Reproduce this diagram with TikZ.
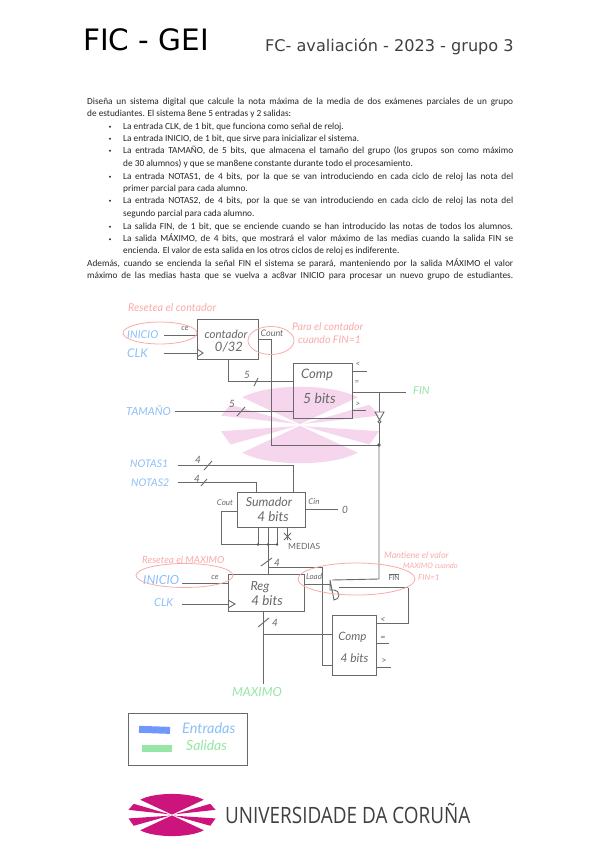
\documentclass[tikz,border=0pt]{standalone}
\usepackage{fontspec}
\setmainfont{Carlito}
\newfontfamily\hdr{DejaVu Sans}
\newfontfamily\hand{Lato}
\newfontfamily\logof{Open Sans}
\definecolor{ink}{RGB}{105,105,105}
\definecolor{inb}{RGB}{140,190,250}
\definecolor{outg}{RGB}{150,230,165}
\definecolor{rd}{RGB}{250,170,170}
\definecolor{logoM}{RGB}{205,20,125}
\definecolor{wm}{RGB}{246,214,236}
\newcommand{\fs}[1]{\fontsize{#1}{#1}\selectfont}
\tikzset{
 wire/.style={draw=ink,line width=0.9pt},
 blockb/.style={draw=ink,line width=1pt,fill=none,inner sep=0pt},
 hw/.style={inner sep=0pt,font=\hand\itshape\fs{10},text=ink},
 hwb/.style={hw,text=inb},
 hwg/.style={hw,text=outg},
 hwr/.style={hw,text=rd},
 ringr/.style={draw=rd,line width=0.8pt},
 txt/.style={inner sep=0pt,anchor=base west,font=\fs{9.3},text=black!85},
}
\newcommand{\tl}[5]{\node[txt] (#1) at (#2,#3) {\makebox[#4pt][s]{#5}};}
\newcommand{\logoshape}[4]{%
 \begin{scope}[shift={(#1,#2)},x=#3pt,y=-#4pt]
 \fill[fill=\logocol] (-.73,-.71) .. controls (-.4,-1.07) and (.4,-1.07) .. (.73,-.71) -- (0,-.02) -- cycle;
 \fill[fill=\logocol] (-.73,.71) .. controls (-.4,1.07) and (.4,1.07) .. (.73,.71) -- (0,.02) -- cycle;
 \fill[fill=\logocol] (-1,-.24) -- (-.88,-.52) -- (-.05,-.03) -- cycle;
 \fill[fill=\logocol] (1,-.24) -- (.88,-.52) -- (.05,-.03) -- cycle;
 \fill[fill=\logocol] (-1,.16) -- (-.88,.5) -- (-.05,.03) -- cycle;
 \fill[fill=\logocol] (1,.16) -- (.88,.5) -- (.05,.03) -- cycle;
 \end{scope}}
\begin{document}
\begin{tikzpicture}[x=1pt,y=-1pt]
\useasboundingbox (0,0) rectangle (599,848);
\fill[white] (0,0) rectangle (599,848);
% watermark
\def\logocol{wm}
\logoshape{300}{425}{79}{39}
% header
\node[inner sep=0pt,anchor=base west,font=\hdr\fs{29.5}] (h1) at (83,51) {FIC - GEI};
\node[inner sep=0pt,anchor=base west,font=\hdr\fs{16.1},text=black!75] (h2) at (265,52) {FC- avaliación - 2023 - grupo 3};
% body
\tl{a1}{87}{104.5}{426}{Diseña un sistema digital que calcule la nota máxima de la media de dos exámenes parciales de un grupo}
\node[txt] (a2) at (87,116.5) {de estudiantes. El sistema 8ene 5 entradas y 2 salidas:};
\foreach \yy in {129,141,153,179,203,229,241.5}{\fill[black!80] (110,\yy-2.3) circle (1.1);}
\node[txt] (b1) at (123,129) {La entrada CLK, de 1 bit, que funciona como señal de reloj.};
\node[txt] (b2) at (123,141) {La entrada INICIO, de 1 bit, que sirve para inicializar el sistema.};
\tl{b3}{123}{153.5}{390}{La entrada TAMAÑO, de 5 bits, que almacena el tamaño del grupo (los grupos son como máximo}
\node[txt] (b3b) at (123,166) {de 30 alumnos) y que se man8ene constante durante todo el procesamiento.};
\tl{b4}{123}{179}{390}{La entrada NOTAS1, de 4 bits, por la que se van introduciendo en cada ciclo de reloj las nota del}
\node[txt] (b4b) at (123,191) {primer parcial para cada alumno.};
\tl{b5}{123}{203}{390}{La entrada NOTAS2, de 4 bits, por la que se van introduciendo en cada ciclo de reloj las nota del}
\node[txt] (b5b) at (123,216) {segundo parcial para cada alumno.};
\tl{b6}{123}{229}{390}{La salida FIN, de 1 bit, que se enciende cuando se han introducido las notas de todos los alumnos.}
\tl{b7}{123}{241.5}{390}{La salida MÁXIMO, de 4 bits, que mostrará el valor máximo de las medias cuando la salida FIN se}
\node[txt] (b7b) at (123,253.5) {encienda. El valor de esta salida en los otros ciclos de reloj es indiferente.};
\tl{c1}{87}{266}{426}{Además, cuando se encienda la señal FIN el sistema se parará, manteniendo por la salida MÁXIMO el valor}
\tl{c2}{87}{278}{426}{máximo de las medias hasta que se vuelva a ac8var INICIO para procesar un nuevo grupo de estudiantes.}
% blocks
\node[blockb,minimum width=61pt,minimum height=40pt] (cnt) at (227.5,339) {};
\node[blockb,minimum width=59pt,minimum height=55pt] (cmp5) at (322.5,390.5) {};
\node[blockb,minimum width=68pt,minimum height=35pt] (sum) at (271,509.5) {};
\node[blockb,minimum width=76pt,minimum height=37pt] (reg) at (266,592.5) {};
\node[blockb,minimum width=44pt,minimum height=60pt] (cmp4) at (354,645) {};
\node[hw,font=\hand\itshape\fs{11.5}] (cntl) at (226,334) {contador};
\node[hw,font=\hand\itshape\fs{13}] (cntm) at (229,347) {0/32};
\node[hw,font=\hand\itshape\fs{13}] (c5l) at (317,375) {Comp};
\node[hw,font=\hand\itshape\fs{14}] (c5m) at (319.5,398) {5 bits};
\node[hw,font=\hand\itshape\fs{12.5}] (suml) at (269,502) {Sumador};
\node[hw,font=\hand\itshape\fs{13.5}] (sumb) at (273,517) {4 bits};
\node[hw,font=\hand\itshape\fs{12.5}] (regl) at (260,587) {Reg};
\node[hw,font=\hand\itshape\fs{13.5}] (regb) at (267,601) {4 bits};
\node[hw,font=\hand\itshape\fs{11.5}] (c4l) at (352.5,637) {Comp};
\node[hw,font=\hand\itshape\fs{12}] (c4b) at (354.5,658) {4 bits};
% top wires
\coordinate (iniE) at (164,335);
\coordinate (clkE) at (164,353);
\draw[wire] (iniE) -- (cnt.west |- iniE);
\draw[wire] (clkE) -- (cnt.west |- clkE);
\draw[wire] (197,349) -- (203,353) -- (197,357);
\coordinate (t1) at (228,359);
\draw[wire] (t1) |- (293,381);
\draw[wire] (175,411) -- (293,411);
\coordinate (cE) at (258,339);
\coordinate (dot1) at (379,445);
\draw[wire] (cE) -| (271,445) -- (dot1);
\fill[ink!80!black] (dot1) circle (1.8);
\draw[wire] (352,392) -- (406,392);
\draw[wire] (379,392) -- (379,412);
\draw[wire] (375,412) -- (384,412) -- (379.5,420) -- cycle;
\draw[wire] (379.5,421.7) circle (1.5);
\draw[wire] (379,423) -- (dot1);
\draw[wire] (352,371) -- (367,371);
\draw[wire] (352,410) -- (366,410);
% bus ticks
\draw[wire] (254,386) -- (258,378);
\draw[wire] (237,416) -- (245,407);
\draw[wire] (204,470) -- (212,461);
\draw[wire] (201,486) -- (207,479);
\node[hw] (n5a) at (247,375) {5};
\node[hw] (n5b) at (232,404) {5};
\node[hw] (n4a) at (198,460) {4};
\node[hw] (n4b) at (197,479) {4};
\node[hw,font=\hand\itshape\fs{8}] (qc) at (185,328) {ce};
\node[hw,font=\hand\itshape\fs{9}] (qcount) at (272,333) {Count};
\node[hw,font=\hand\itshape\fs{8}] (lt) at (358,364) {<};
\node[hw,font=\hand\itshape\fs{8}] (leq) at (357,383) {=};
\node[hw,font=\hand\itshape\fs{8}] (lgt) at (358,404) {>};
% notas
\draw[wire] (178,465) -| (293,492);
\draw[wire] (178,482) -| (256,492);
% sumador
\draw[wire] (237,511) -| (221,544.5) -- (277,544.5);
\draw[wire] (305,509.5) -- (338,509.5);
\draw[wire] (dot1) -- (379,579) -- (332,580);
\node[hw,font=\hand\itshape\fs{10}] (zero) at (345,510) {0};
\draw[wire] (258,527) -- (258,544.5);
\draw[wire] (268,527) -- (268,574);
\draw[wire] (277,527) -- (277,544.5);
\draw[wire] (287,527) -- (287,540);
\draw[wire] (284,533) -- (291,540) (291,533) -- (284,540);
\foreach \xx in {258,268,277}{\fill[ink!80!black] (\xx,544.5) circle (1.3);}
\node[hw,font=\hand\fs{8.5},anchor=west] (med) at (288,546) {MEDIAS};
\node[hw,font=\hand\itshape\fs{8}] (cout) at (225,503) {Cout};
\node[hw,font=\hand\itshape\fs{8}] (cin) at (314,502) {Cin};
\draw[wire] (261,566) -- (272,558);
\node[hw] (n4c) at (277,563) {4};
\draw[wire] (268,567.5) -- (322,567.5) -- (322,665) -- (332,665);
\draw[wire] (304,584) -- (330,584);
\draw[wire] (258,627) -- (269,618);
\node[hw] (n4d) at (275,623) {4};
\draw[wire] (263,634) -- (332,634);
\draw[wire] (263,611) -- (263,684);
% and gate
\draw[wire] (330,580) -- (330,590) -- (334,590) arc[start angle=-90,end angle=90,radius=5] -- cycle;
\draw[wire] (339,587.6) -- (408,587.6);
\draw[wire] (408,587.6) -- (408,623) -- (376,623);
\node[hw,font=\hand\itshape\fs{8}] (qce) at (215,577) {ce};
\node[hw,font=\hand\itshape\fs{8}] (qload) at (314,577) {Load};
\node[hw,font=\hand\itshape\fs{8}] (finb) at (394,577) {$\overline{\mathrm{FIN}}$};
\draw[wire] (182,583) -- (228,583);
\draw[wire] (182,604) -- (228,604);
\draw[wire] (228,600) -- (235,604) -- (228,608);
\node[hw,font=\hand\itshape\fs{9}] (l2) at (383,620) {<};
\node[hw,font=\hand\itshape\fs{9}] (e2) at (383,638) {=};
\node[hw,font=\hand\itshape\fs{9}] (g2) at (384,661) {>};
\draw[wire] (376,643) -- (389,643);
\draw[wire] (376,667) -- (391,667);
% inputs
\node[hwb,anchor=west,font=\hand\itshape\fs{11}] (iTam) at (126,411) {TAMAÑO};
\node[hwb,anchor=west,font=\hand\itshape\fs{10.8}] (iIni) at (127,335) {INICIO};
\node[hwb,anchor=west,font=\hand\itshape\fs{12}] (iClk) at (127,353) {CLK};
\node[hwb,anchor=west,font=\hand\itshape\fs{10.5}] (iN1) at (130,463.5) {NOTAS1};
\node[hwb,anchor=west,font=\hand\itshape\fs{10.5}] (iN2) at (131,482.5) {NOTAS2};
\node[hwb,anchor=west,font=\hand\itshape\fs{12.5}] (iIn2) at (143,580) {INICIO};
\node[hwb,anchor=west,font=\hand\itshape\fs{11}] (iCk2) at (154,603) {CLK};
\node[hwg,font=\hand\itshape\fs{12.5}] (oMax) at (257,692) {MAXIMO};
\node[hwg,anchor=west,font=\hand\itshape\fs{11}] (fin) at (413,391) {FIN};
% rings
\draw[ringr] (160,333) ellipse (37 and 11);
\draw[ringr] (271,340.5) ellipse (23 and 14);
\draw[ringr] (184.5,575.5) ellipse (48.5 and 12);
\draw[ringr] (356.5,579) ellipse (58.5 and 16);
% notes
\node[hwr,anchor=west,font=\hand\itshape\fs{10.8}] (r1) at (128,308) {Resetea el contador};
\node[hwr,anchor=west,font=\hand\itshape\fs{10.5}] (r2) at (292,327) {Para el contador};
\node[hwr,anchor=west,font=\hand\itshape\fs{10.5}] (r2b) at (298,340) {cuando FIN=1};
\node[hwr,anchor=west,font=\hand\itshape\fs{9.8}] (r3) at (142,560) {Resetea el MAXIMO};
\node[hwr,anchor=west,font=\hand\itshape\fs{9}] (r4) at (384,555) {Mantiene el valor};
\node[hwr,anchor=west,font=\hand\itshape\fs{7.5}] (r4b) at (403,566) {MAXIMO cuando};
\node[hwr,anchor=west,font=\hand\itshape\fs{8}] (r4c) at (418,578) {FIN=1};
% legend
\node[draw=ink,line width=0.8pt,minimum width=119pt,minimum height=52pt,inner sep=0pt] (leg) at (187.5,739) {};
\fill[inb!80!blue,rotate around={-2:(145,730)}] (139,726) rectangle (170,733);
\fill[outg] (142,745) rectangle (172,752);
\node[hwb,anchor=west,font=\hand\itshape\fs{14.5}] (l1) at (182,728) {Entradas};
\node[hwg,anchor=west,font=\hand\itshape\fs{14}] (l3) at (186,745) {Salidas};
% logo
\def\logocol{logoM}
\logoshape{172}{815}{43.5}{21.5}
\node[inner sep=0pt,anchor=base west,text=black!75,xscale=.84,font=\logof\fs{22.5}] (ul) at (225,823) {UNIVERSIDADE DA CORUÑA};
\end{tikzpicture}
\end{document}
